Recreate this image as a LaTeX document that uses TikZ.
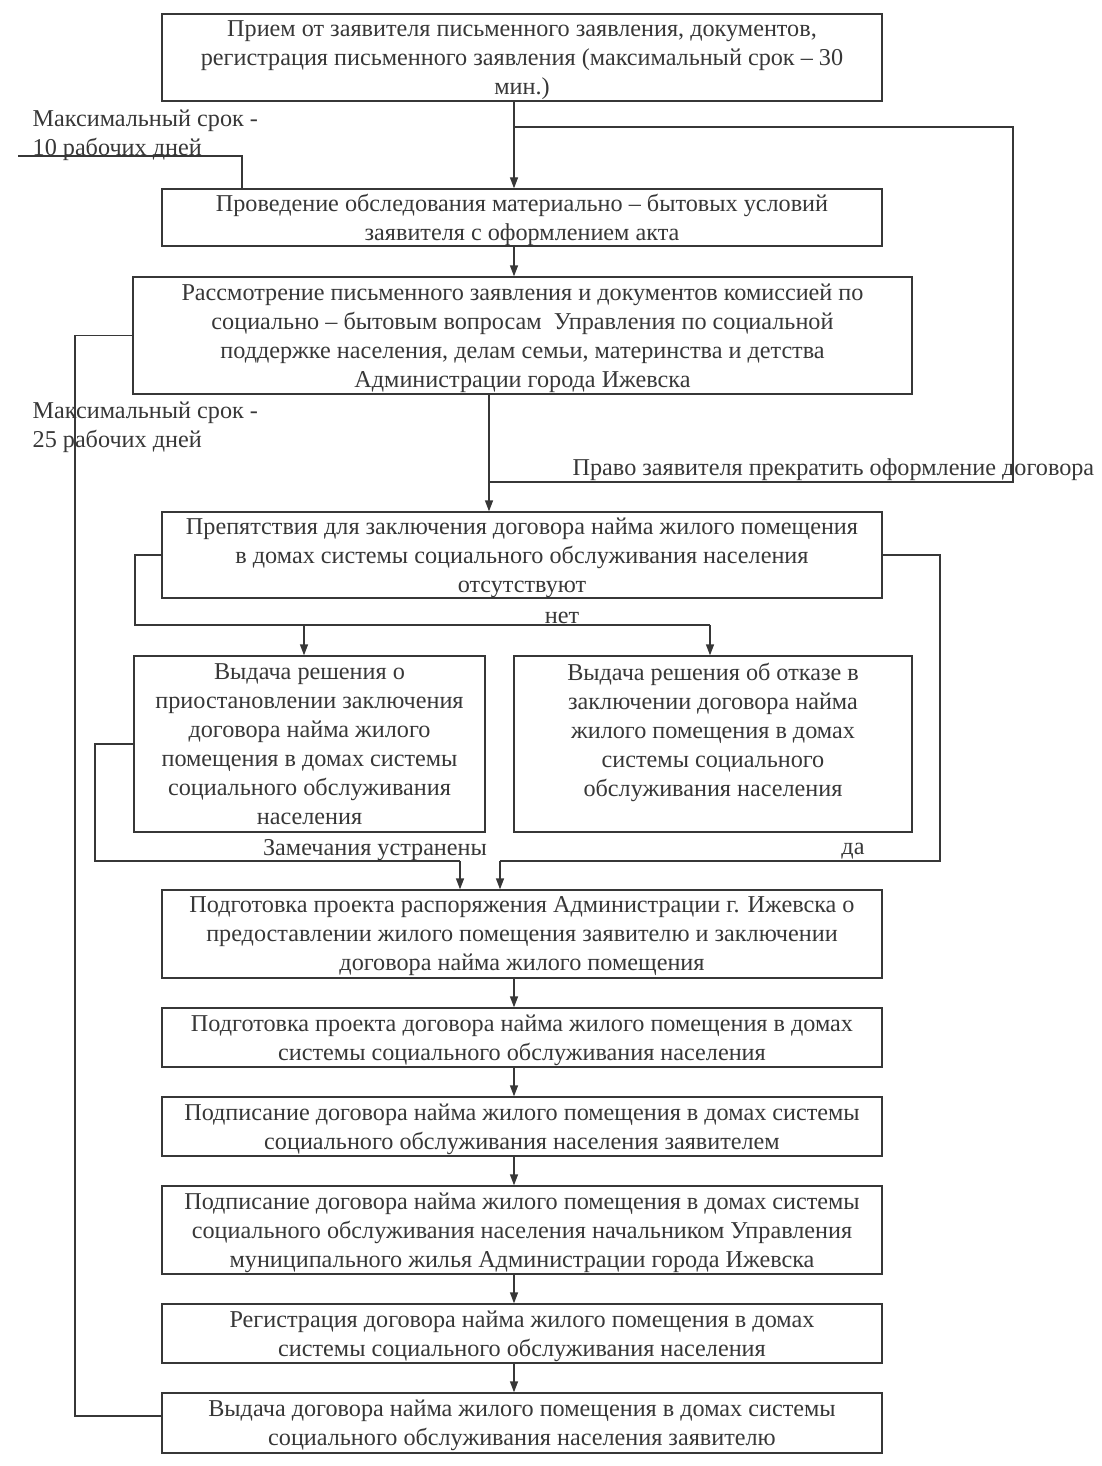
\documentclass[tikz,border=0pt]{standalone}
\usepackage{fontspec}
\setmainfont{Liberation Serif}
\usetikzlibrary{arrows.meta}
\definecolor{ink}{RGB}{55,55,55}
\begin{document}
\begin{tikzpicture}[
			x=1pt, y=-1pt,
			color=ink,
			line width=1.3pt,
			every node/.style={font=\fontsize{24.2}{29}\selectfont},
			box/.style={draw, align=center, inner sep=0pt, minimum width=720pt, text depth=0pt},
			arr/.style={-{Triangle[length=11pt,width=8pt]}}
			]
			\useasboundingbox (0,0) rectangle (1102,1466);
			% boxes
			\node [box, minimum height=87pt] (priem) at (522,57.5)
				{Прием от заявителя письменного заявления, документов,\\регистрация письменного заявления (максимальный срок – 30\\мин.)};
			\node [box, minimum height=57pt] (obsl) at (522,217.5)
				{Проведение обследования материально – бытовых условий\\заявителя с оформлением акта};
			\node [box, minimum width=779pt, minimum height=117pt] (komis) at (522.5,335.5)
				{Рассмотрение письменного заявления и документов комиссией по\\социально – бытовым вопросам~ Управления по социальной\\поддержке населения, делам семьи, материнства и детства\\Администрации города Ижевска};
			\node [box, minimum height=86pt] (prep) at (522,555)
				{Препятствия для заключения договора найма жилого помещения\\в домах системы социального обслуживания населения\\отсутствуют};
			\node [box, minimum width=351pt, minimum height=176pt] (priost) at (309.5,744)
				{Выдача решения о\\приостановлении заключения\\договора найма жилого\\помещения в домах системы\\социального обслуживания\\населения};
			\node [box, minimum width=398pt, minimum height=176pt] (otkaz) at (713,744)
				{Выдача решения об отказе в\\заключении договора найма\\жилого помещения в домах\\системы социального\\обслуживания населения\\~};
			\node [box, minimum height=88pt] (raspor) at (522,934)
				{Подготовка проекта распоряжения Администрации г. Ижевска о\\предоставлении жилого помещения заявителю и заключении\\договора найма жилого помещения};
			\node [box, minimum height=59pt] (proekt) at (522,1037.5)
				{Подготовка проекта договора найма жилого помещения в домах\\системы социального обслуживания населения};
			\node [box, minimum height=59pt] (podpis) at (522,1126.5)
				{Подписание договора найма жилого помещения в домах системы\\социального обслуживания населения заявителем};
			\node [box, minimum height=88pt] (nachal) at (522,1230)
				{Подписание договора найма жилого помещения в домах системы\\социального обслуживания населения начальником Управления\\муниципального жилья Администрации города Ижевска};
			\node [box, minimum height=59pt] (regist) at (522,1333.5)
				{Регистрация договора найма жилого помещения в домах\\системы социального обслуживания населения};
			\node [box, minimum height=60pt] (vydacha) at (522,1423)
				{Выдача договора найма жилого помещения в домах системы\\социального обслуживания населения заявителю};
			% labels
			\node [anchor=west, align=left, inner sep=0pt] (srok10) at (32,135) {Максимальный срок -\\10 рабочих дней};
			\node [anchor=west, align=left, inner sep=0pt] (srok25) at (32,427.5) {Максимальный срок -\\25 рабочих дней};
			\node [anchor=west, inner sep=0pt] (pravo) at (572,470) {Право заявителя прекратить оформление договора};
			\node [inner sep=0pt] (net) at (562,618) {нет};
			\node [inner sep=0pt] (zamech) at (375,850) {Замечания устранены};
			\node [inner sep=0pt] (da) at (853,851) {да};
			% helper points
			\coordinate (spine) at (514,0);
			\coordinate (stem) at (489,0);
			\coordinate (jr) at (1013,127);
			\coordinate (jb) at (1013,482);
			\coordinate (k10) at (242,156);
			\coordinate (l25) at (75,1416);
			\coordinate (nl) at (135,625);
			\coordinate (na) at (304,625);
			\coordinate (nb) at (710,625);
			\coordinate (dr) at (940,861);
			\coordinate (da1) at (500,861);
			\coordinate (zl) at (95,861);
			\coordinate (za) at (460,861);
			% connectors
			\draw [arr] (priem.south -| spine) -- (obsl.north -| spine);
			\draw (spine |- jr) -- (jr) -- (jb) -- (jb -| stem);
			\draw (18,156) -- (k10) -- (obsl.north -| k10);
			\draw [arr] (obsl.south -| spine) -- (komis.north -| spine);
			\draw [arr] (komis.south -| stem) -- (prep.north -| stem);
			\draw (komis.west) -| (l25) -- (l25 -| vydacha.west);
			\draw (prep.west) -| (nl) -- (nb);
			\draw [arr] (na) -- (priost.north -| na);
			\draw [arr] (nb) -- (otkaz.north -| nb);
			\draw (prep.east) -| (dr) -- (da1);
			\draw [arr] (da1) -- (raspor.north -| da1);
			\draw (priost.west) -| (zl) -- (za);
			\draw [arr] (za) -- (raspor.north -| za);
			\draw [arr] (raspor.south -| spine) -- (proekt.north -| spine);
			\draw [arr] (proekt.south -| spine) -- (podpis.north -| spine);
			\draw [arr] (podpis.south -| spine) -- (nachal.north -| spine);
			\draw [arr] (nachal.south -| spine) -- (regist.north -| spine);
			\draw [arr] (regist.south -| spine) -- (vydacha.north -| spine);
		\end{tikzpicture}
\end{document}
